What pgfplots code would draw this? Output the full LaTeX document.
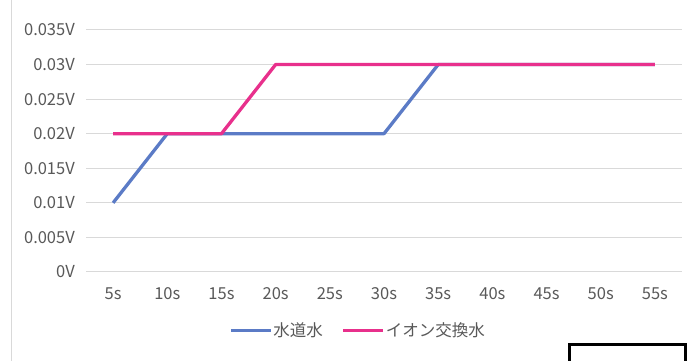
\documentclass[border=0pt]{standalone}
\usepackage{pgfplots}
\pgfplotsset{compat=1.18}
\usepackage{fontspec}
\setmainfont{Noto Sans CJK JP}
\newfontfamily\cjk{Noto Sans CJK JP}
\definecolor{txt}{HTML}{595959}
\definecolor{grd}{HTML}{D9D9D9}
\definecolor{sblue}{HTML}{5B7BC6}
\definecolor{smag}{HTML}{E8308C}
\begin{document}
\begin{tikzpicture}[x=1pt,y=1pt]
\useasboundingbox (0,0) rectangle (699,361);
\draw[grd, line width=1pt] (11,0) -- (11,361);
\begin{axis}[
  at={(86pt,89pt)}, anchor=south west, scale only axis,
  width=596pt, height=242pt,
  xmin=-0.5, xmax=10.5, ymin=0, ymax=0.035,
  axis line style={draw=none},
  major tick length=0pt,
  ymajorgrids, grid style={grd, line width=1pt},
  xtick={0,...,10},
  xticklabels={5s,10s,15s,20s,25s,30s,35s,40s,45s,50s,55s},
  ytick={0,0.005,0.01,0.015,0.02,0.025,0.03,0.035},
  yticklabels={0V,0.005V,0.01V,0.015V,0.02V,0.025V,0.03V,0.035V},
  scaled y ticks=false,
  tick label style={font=\cjk\fontsize{16.5}{18}\selectfont, text=txt},
  yticklabel style={anchor=east, inner sep=0pt, xshift=-11pt},
  xticklabel style={anchor=center, inner sep=0pt, yshift=-22pt},
  clip=false,
  legend columns=2,
  legend image code/.code={\draw[#1] (0pt,0pt) -- (40pt,0pt);},
  legend style={at={(0.4555,-0.2430)}, anchor=center, draw=none, fill=none,
    font=\cjk\fontsize{16.5}{18}\selectfont, text=txt,
    nodes={inner sep=0.8pt},
    /tikz/every even column/.append style={column sep=18pt}},
]
\addplot[sblue, line width=3.3pt, line join=round] coordinates {
(0,0.01) (1,0.02) (2,0.02) (3,0.02) (4,0.02) (5,0.02) (6,0.03) (7,0.03) (8,0.03) (9,0.03) (10,0.03)};
\addlegendentry{水道水}
\addplot[smag, line width=3.3pt, line join=round] coordinates {
(0,0.02) (1,0.02) (2,0.02) (3,0.03) (4,0.03) (5,0.03) (6,0.03) (7,0.03) (8,0.03) (9,0.03) (10,0.03)};
\addlegendentry{イオン交換水}
\end{axis}
\draw[black, line width=3.5pt] (569.5,-5) -- (569.5,16.3) -- (685.5,16.3) -- (685.5,-5);
\end{tikzpicture}
\end{document}
